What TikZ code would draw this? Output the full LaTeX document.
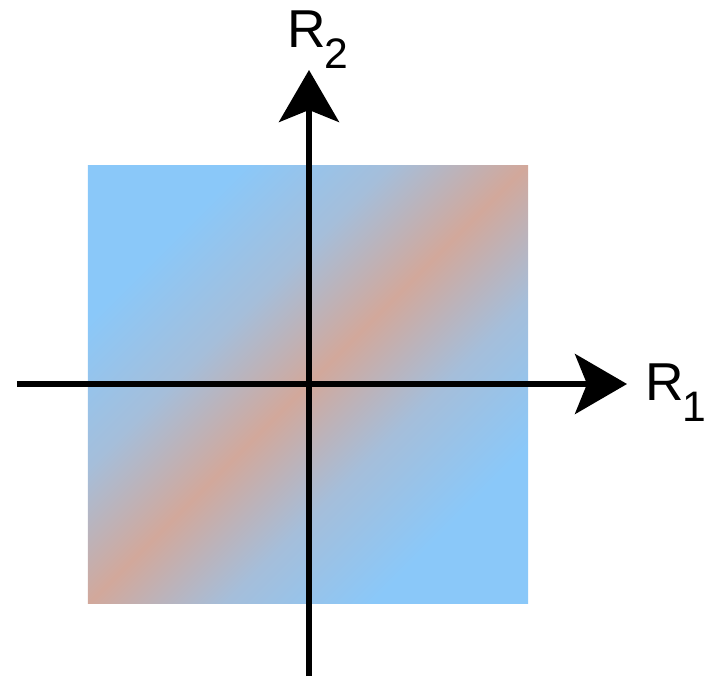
\documentclass[tikz,border=0pt]{standalone}
\usepackage{fontspec}
\setmainfont{Liberation Sans}
\usepackage{xcolor}
\usepackage{tikz}
\usetikzlibrary{arrows.meta,positioning}

\definecolor{skyfill}{RGB}{138,200,249}
\definecolor{midfill}{RGB}{165,190,218}
\definecolor{bandfill}{RGB}{210,168,155}

\pgfdeclarehorizontalshading{diagband}{100bp}{%
  color(0bp)=(skyfill); color(27bp)=(skyfill); color(39bp)=(midfill);
  color(50bp)=(bandfill);
  color(61bp)=(midfill); color(73bp)=(skyfill); color(100bp)=(skyfill)}

\newcommand{\axlabel}[2]{#1\hspace{-1pt}\raisebox{-16pt}{\fontsize{32}{36}\selectfont #2}}

\begin{document}
\begin{tikzpicture}[
  x=0.75pt, y=0.75pt,
  >={Stealth[length=39pt, width=45pt, inset=9pt]},
  axis/.style={line width=4.1pt, ->},
  axlab/.style={inner sep=0pt, anchor=base west, font=\fontsize{40}{48}\selectfont},
]
\useasboundingbox (-309,-292) rectangle (400,384);

% Square with diagonal band
\coordinate (sqsw) at (-221,-219);
\coordinate (sqne) at (219,219);
\shade[shading=diagband, shading angle=-45] (sqsw) rectangle (sqne);

% Axes
\coordinate (xstart) at (-292,0);
\coordinate (xend) at (318,0);
\coordinate (ystart) at (0,-292);
\coordinate (yend) at (0,314);
\draw[axis] (xstart) -- (xend);
\draw[axis] (ystart) -- (yend);

% Labels
\node[axlab] (rone) at (336,-16) {\axlabel{R}{1}};
\node[axlab] (rtwo) at (-22,337) {\axlabel{R}{2}};
\end{tikzpicture}
\end{document}
